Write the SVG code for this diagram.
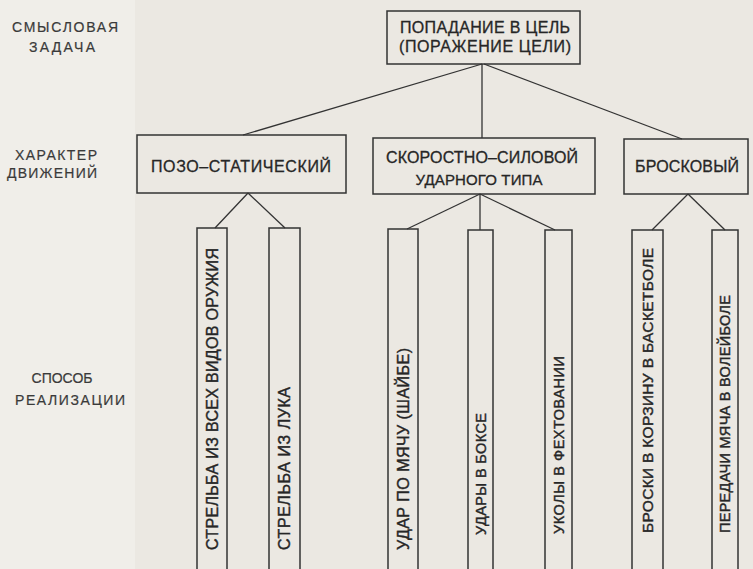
<svg xmlns="http://www.w3.org/2000/svg" width="753" height="569" viewBox="0 0 753 569">
<style>
.bg{fill:#ebe8e2}
.box{fill:none;stroke:#333;stroke-width:1.5}
.ln{fill:none;stroke:#333;stroke-width:1.3}
.t{font-family:"Liberation Sans",Arial,sans-serif;font-size:16px;fill:#262626;stroke:#262626;stroke-width:0.3;text-anchor:middle}
.v{font-family:"Liberation Sans",Arial,sans-serif;font-size:16px;fill:#262626;stroke:#262626;stroke-width:0.4;text-anchor:middle}
.vs{font-size:14.5px}
.s{font-family:"Liberation Sans",Arial,sans-serif;font-size:14px;fill:#3a3a3a;stroke:#3a3a3a;stroke-width:0.2;text-anchor:middle}
</style>
<rect class="bg" x="0" y="0" width="753" height="569"/>
<rect x="0" y="0" width="135" height="569" fill="#f0eee9"/>

<g id="side-labels">
<text class="s" x="65" y="32" textLength="106" lengthAdjust="spacing">СМЫСЛОВАЯ</text>
<text class="s" x="62" y="52" textLength="66" lengthAdjust="spacing">ЗАДАЧА</text>
<text class="s" x="56" y="160" textLength="82" lengthAdjust="spacing">ХАРАКТЕР</text>
<text class="s" x="52" y="178" textLength="90" lengthAdjust="spacing">ДВИЖЕНИЙ</text>
<text class="s" x="62" y="383" textLength="61" lengthAdjust="spacing">СПОСОБ</text>
<text class="s" x="70" y="405" textLength="110" lengthAdjust="spacing">РЕАЛИЗАЦИИ</text>
</g>

<g id="connectors">
<line class="ln" x1="482" y1="64" x2="243" y2="135"/>
<line class="ln" x1="482" y1="64" x2="482" y2="138"/>
<line class="ln" x1="484" y1="64" x2="682" y2="139"/>
<line class="ln" x1="248" y1="193" x2="215" y2="228"/>
<line class="ln" x1="248" y1="193" x2="285" y2="228"/>
<line class="ln" x1="480" y1="194" x2="407" y2="229"/>
<line class="ln" x1="480" y1="194" x2="480" y2="230"/>
<line class="ln" x1="480" y1="194" x2="555" y2="230"/>
<line class="ln" x1="688" y1="194" x2="652" y2="230"/>
<line class="ln" x1="688" y1="194" x2="725" y2="230"/>
</g>

<g id="goal">
<rect class="box" x="387" y="11" width="193" height="53"/>
<text class="t" x="485" y="33" textLength="170" lengthAdjust="spacing">ПОПАДАНИЕ В ЦЕЛЬ</text>
<text class="t" x="485" y="52" textLength="172" lengthAdjust="spacing">(ПОРАЖЕНИЕ ЦЕЛИ)</text>
</g>

<g id="pozo">
<rect class="box" x="137" y="135" width="209" height="58"/>
<text class="t" x="241" y="172" textLength="180" lengthAdjust="spacing">ПОЗО–СТАТИЧЕСКИЙ</text>
</g>

<g id="skorostno">
<rect class="box" x="373" y="138" width="222" height="56"/>
<text class="t" x="482" y="163" textLength="192" lengthAdjust="spacing">СКОРОСТНО–СИЛОВОЙ</text>
<text class="t" x="479" y="185" textLength="127" lengthAdjust="spacing" style="font-size:15px">УДАРНОГО ТИПА</text>
</g>

<g id="broskovy">
<rect class="box" x="624" y="139" width="124" height="55"/>
<text class="t" x="687" y="172" textLength="104" lengthAdjust="spacing">БРОСКОВЫЙ</text>
</g>

<g id="m1">
<rect class="box" x="197" y="228" width="30" height="350"/>
<text class="v" transform="translate(212,399) rotate(-90)" x="0" y="5.7" textLength="302" lengthAdjust="spacing">СТРЕЛЬБА ИЗ ВСЕХ ВИДОВ ОРУЖИЯ</text>
</g>
<g id="m2">
<rect class="box" x="269" y="228" width="31" height="350"/>
<text class="v" transform="translate(284.5,468.5) rotate(-90)" x="0" y="5.7" textLength="163" lengthAdjust="spacing">СТРЕЛЬБА ИЗ ЛУКА</text>
</g>
<g id="m3">
<rect class="box" x="388" y="229" width="30" height="350"/>
<text class="v" transform="translate(403,449) rotate(-90)" x="0" y="5.7" textLength="202" lengthAdjust="spacing">УДАР ПО МЯЧУ  (ШАЙБЕ)</text>
</g>
<g id="m4">
<rect class="box" x="468" y="230" width="25" height="350"/>
<text class="v vs" transform="translate(480.5,474) rotate(-90)" x="0" y="5.2" textLength="122" lengthAdjust="spacing">УДАРЫ В БОКСЕ</text>
</g>
<g id="m5">
<rect class="box" x="545" y="230" width="27" height="350"/>
<text class="v vs" transform="translate(558.5,445) rotate(-90)" x="0" y="5.2" textLength="178" lengthAdjust="spacing">УКОЛЫ В ФЕХТОВАНИИ</text>
</g>
<g id="m6">
<rect class="box" x="632" y="230" width="31" height="350"/>
<text class="v" transform="translate(647.5,390.5) rotate(-90)" x="0" y="5.7" textLength="285" lengthAdjust="spacing" style="font-size:15.5px">БРОСКИ В  КОРЗИНУ В БАСКЕТБОЛЕ</text>
</g>
<g id="m7">
<rect class="box" x="712" y="230" width="26" height="350"/>
<text class="v vs" transform="translate(725,414) rotate(-90)" x="0" y="5.2" textLength="238" lengthAdjust="spacing">ПЕРЕДАЧИ МЯЧА В ВОЛЕЙБОЛЕ</text>
</g>
</svg>
